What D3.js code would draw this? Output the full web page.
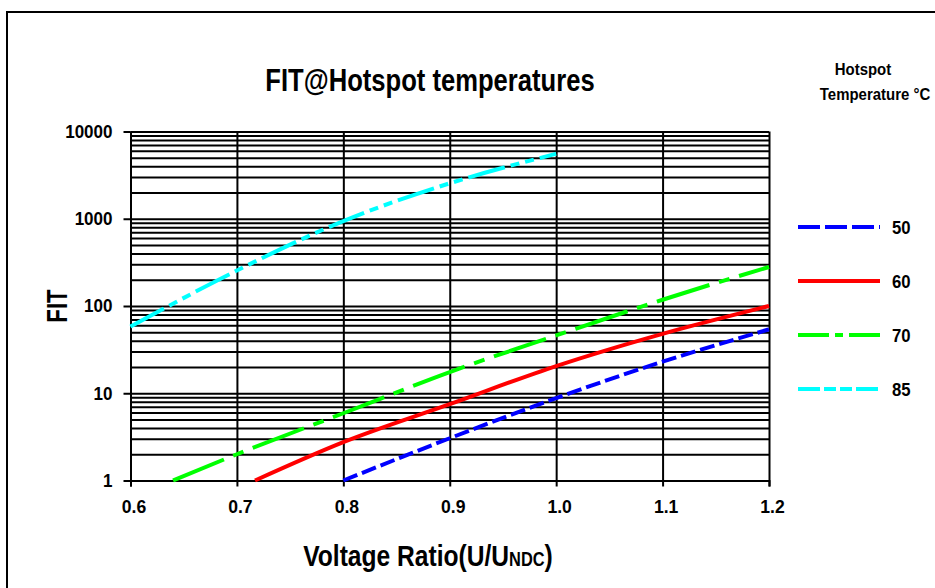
<!DOCTYPE html>
<html>
<head>
<meta charset="utf-8">
<script src="https://cdn.jsdelivr.net/npm/d3@7"></script>
<style>
  html, body { margin: 0; padding: 0; background: #fff; }
  svg { display: block; }
  text { font-family: "Liberation Sans", Arial, sans-serif; font-weight: bold; fill: #000; }
</style>
</head>
<body>
<svg id="chart" width="935" height="588"></svg>
<script>
// ---- data ----
const xTicks = [0.6, 0.7, 0.8, 0.9, 1.0, 1.1, 1.2];
const xTickLabels = ["0.6", "0.7", "0.8", "0.9", "1.0", "1.1", "1.2"];
const yTicks = [1, 10, 100, 1000, 10000];
const yTickLabels = ["1", "10", "100", "1000", "10000"];

const seriesNames = ["50", "60", "70", "85"];
const x50 = [0.8, 0.9, 1.0, 1.1, 1.2];
const y50 = [1, 3.05, 8.8, 23, 54];
const x60 = [0.717, 0.8, 0.9, 1.0, 1.1, 1.2];
const y60 = [1, 2.75, 7.5, 20.5, 48, 100];
const x70 = [0.64, 0.7, 0.8, 0.9, 1.0, 1.1, 1.2];
const y70 = [1, 2.0, 5.9, 17.5, 46, 118, 280];
const x85 = [0.6, 0.7, 0.8, 0.9, 1.0];
const y85 = [58, 255, 940, 2550, 5550];

const titleText = "FIT@Hotspot temperatures";
const yTitle = "FIT";
const legendTitle1 = "Hotspot";
const legendTitle2 = "Temperature °C";

// ---- styles ----
const colors = ["#0000ff", "#ff0000", "#00ff00", "#00ffff"];
const plotDash = ["15,5", null, "55,10,11,10", "38,6,9,6,9,6"];
const legendDash = ["22,5", null, "31,6,8,6", "22,4,12,4,12,4"];

const svg = d3.select("#chart");

// horizontal condensing helper (narrow bold look)
function condense(sel, k) {
  sel.each(function () {
    const w = this.getComputedTextLength();
    this.setAttribute("textLength", (w * k).toFixed(2));
    this.setAttribute("lengthAdjust", "spacingAndGlyphs");
  });
}

const x = d3.scaleLinear().domain([0.6, 1.2]).range([130.5, 769]);
const y = d3.scaleLog().domain([1, 10000]).range([480.5, 131.5]);

// outer frame
svg.append("rect").attr("x", 7).attr("y", 12).attr("width", 1000).attr("height", 1000)
  .attr("fill", "none").attr("stroke", "#000").attr("stroke-width", 2);

// horizontal gridlines (major + minor)
const grid = svg.append("g");
grid.append("g")
  .attr("transform", `translate(${x(0.6)},0)`)
  .call(d3.axisLeft(y).tickValues(y.ticks()).tickSize(-(x(1.2) - x(0.6))).tickFormat(""))
  .call(g => g.select(".domain").remove())
  .call(g => g.selectAll("line").attr("stroke", "#000").attr("stroke-width", 2));

// vertical gridlines
grid.append("g")
  .attr("transform", `translate(0,${y(1)})`)
  .call(d3.axisBottom(x).tickValues(xTicks).tickSize(-(y(1) - y(10000))).tickFormat(""))
  .call(g => g.select(".domain").remove())
  .call(g => g.selectAll("line").attr("stroke", "#000").attr("stroke-width", 2));

// y axis with labels
svg.append("g")
  .attr("transform", `translate(${x(0.6)},0)`)
  .call(d3.axisLeft(y).tickValues(yTicks).tickSize(7).tickPadding(11)
    .tickFormat((d, i) => yTickLabels[i]))
  .call(g => g.select(".domain").remove())
  .call(g => g.selectAll("line").attr("stroke", "#000").attr("stroke-width", 2))
  .call(g => g.selectAll("text").attr("font-size", 18.5).attr("font-family", null).attr("fill", null).call(condense, 0.92));

// x axis with labels
svg.append("g")
  .attr("transform", `translate(0,${y(1)})`)
  .call(d3.axisBottom(x).tickValues(xTicks).tickSize(6).tickPadding(13)
    .tickFormat((d, i) => xTickLabels[i]))
  .call(g => g.select(".domain").attr("stroke", "#000").attr("stroke-width", 2))
  .call(g => g.selectAll("line").attr("stroke", "#000").attr("stroke-width", 2))
  .call(g => g.selectAll("text").attr("font-size", 18.5).attr("dx", 3).attr("font-family", null).attr("fill", null).call(condense, 0.95));

// series
const allX = [x50, x60, x70, x85];
const allY = [y50, y60, y70, y85];
const line = d3.line().x(d => x(d[0])).y(d => y(d[1])).curve(d3.curveMonotoneX);
seriesNames.forEach((name, i) => {
  const pts = allX[i].map((v, j) => [v, allY[i][j]]);
  svg.append("path").datum(pts)
    .attr("d", line)
    .attr("fill", "none")
    .attr("stroke", colors[i])
    .attr("stroke-width", 4)
    .attr("stroke-dasharray", plotDash[i]);
});

// title
svg.append("g").attr("transform", "translate(430,91) scale(0.8,1)")
  .append("text").attr("text-anchor", "middle").attr("font-size", 32).text(titleText);

// y title
svg.append("g").attr("transform", "translate(67,306) rotate(-90) scale(0.74,1)")
  .append("text").attr("text-anchor", "middle").attr("font-size", 30).text(yTitle);

// x title with small caps NDC
const xt = svg.append("g").attr("transform", "translate(428,566) scale(0.82,1)")
  .append("text").attr("text-anchor", "middle").attr("font-size", 30);
xt.append("tspan").text("Voltage Ratio(U/U");
xt.append("tspan").attr("font-size", 20).text("NDC");
xt.append("tspan").text(")");

// legend title
svg.append("g").attr("transform", "translate(863,75) scale(0.88,1)")
  .append("text").attr("text-anchor", "middle").attr("font-size", 17).text(legendTitle1);
svg.append("g").attr("transform", "translate(875,100) scale(0.88,1)")
  .append("text").attr("text-anchor", "middle").attr("font-size", 17).text(legendTitle2);

const legendY = d3.scalePoint().domain(seriesNames).range([227, 389]);
seriesNames.forEach((name, i) => {
  const ly = legendY(name);
  svg.append("line").attr("x1", 798).attr("x2", 880).attr("y1", ly).attr("y2", ly)
    .attr("stroke", colors[i]).attr("stroke-width", 4).attr("stroke-dasharray", legendDash[i]);
  svg.append("text").attr("x", 892).attr("y", ly).attr("dy", "0.36em").attr("font-size", 19)
    .text(name).call(condense, 0.88);
});
</script>
</body>
</html>
